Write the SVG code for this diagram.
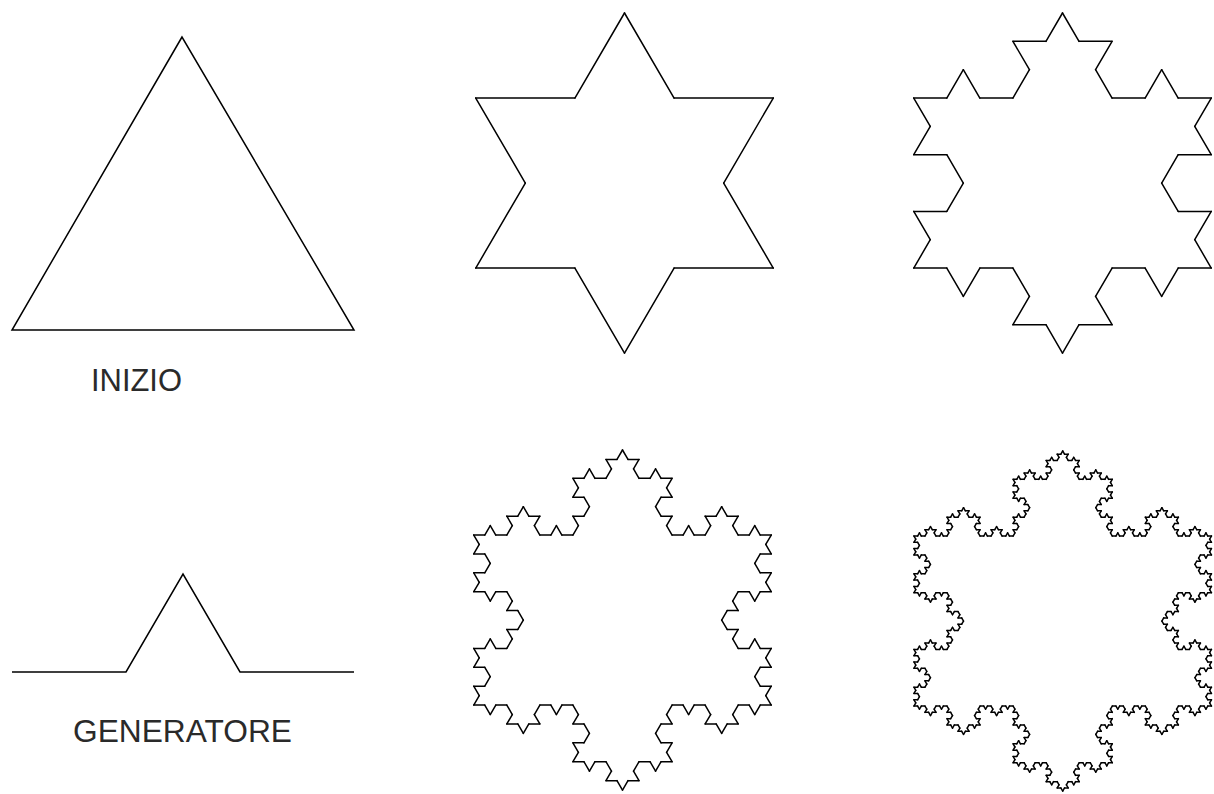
<svg xmlns="http://www.w3.org/2000/svg" width="1214" height="794" viewBox="0 0 1214 794">
<style>
.s{stroke:#000;stroke-width:1.5;fill:none;vector-effect:non-scaling-stroke;stroke-linecap:round;stroke-linejoin:round}
.p{stroke:#000;stroke-width:1.5;fill:none;stroke-linejoin:miter}
.t{font-family:"Liberation Sans",Arial,sans-serif;font-size:31px;fill:#2a2a2a}
</style>
<defs>
<line id="k0" class="s" vector-effect="non-scaling-stroke" x1="0" y1="0" x2="1" y2="0"/>
<g id="k1">
<use href="#k0" transform="scale(0.3333333)"/>
<use href="#k0" transform="translate(0.3333333,0) rotate(-60) scale(0.3333333)"/>
<use href="#k0" transform="translate(0.5,-0.2886751) rotate(60) scale(0.3333333)"/>
<use href="#k0" transform="translate(0.6666667,0) scale(0.3333333)"/>
</g>
<g id="k2">
<use href="#k1" transform="scale(0.3333333)"/>
<use href="#k1" transform="translate(0.3333333,0) rotate(-60) scale(0.3333333)"/>
<use href="#k1" transform="translate(0.5,-0.2886751) rotate(60) scale(0.3333333)"/>
<use href="#k1" transform="translate(0.6666667,0) scale(0.3333333)"/>
</g>
<g id="k3">
<use href="#k2" transform="scale(0.3333333)"/>
<use href="#k2" transform="translate(0.3333333,0) rotate(-60) scale(0.3333333)"/>
<use href="#k2" transform="translate(0.5,-0.2886751) rotate(60) scale(0.3333333)"/>
<use href="#k2" transform="translate(0.6666667,0) scale(0.3333333)"/>
</g>
<g id="k4">
<use href="#k3" transform="scale(0.3333333)"/>
<use href="#k3" transform="translate(0.3333333,0) rotate(-60) scale(0.3333333)"/>
<use href="#k3" transform="translate(0.5,-0.2886751) rotate(60) scale(0.3333333)"/>
<use href="#k3" transform="translate(0.6666667,0) scale(0.3333333)"/>
</g>
</defs>
<rect width="1214" height="794" fill="#fff"/>
<g id="connectors"/>
<g id="inizio">
<polygon class="p" points="182,37 12,330 354,330"/>
<text class="t" x="91" y="391" textLength="91" lengthAdjust="spacingAndGlyphs">INIZIO</text>
</g>
<g id="generatore">
<polyline class="p" points="12,672 126,672 183,574 240,672 354,672"/>
<text class="t" x="73" y="742" textLength="219" lengthAdjust="spacingAndGlyphs">GENERATORE</text>
</g>
<g id="koch1" transform="translate(624.5,13) scale(1,0.99)">
<use href="#k1" transform="translate(148.75,257.642) rotate(180) scale(297.5)"/>
<use href="#k1" transform="translate(-148.75,257.642) rotate(-60) scale(297.5)"/>
<use href="#k1" transform="rotate(60) scale(297.5)"/>
</g>
<g id="koch2" transform="translate(1062.5,13) scale(1,0.99)">
<use href="#k2" transform="translate(148.75,257.642) rotate(180) scale(297.5)"/>
<use href="#k2" transform="translate(-148.75,257.642) rotate(-60) scale(297.5)"/>
<use href="#k2" transform="rotate(60) scale(297.5)"/>
</g>
<g id="koch3" transform="translate(622.5,450) scale(1,0.99)">
<use href="#k3" transform="translate(148.75,257.642) rotate(180) scale(297.5)"/>
<use href="#k3" transform="translate(-148.75,257.642) rotate(-60) scale(297.5)"/>
<use href="#k3" transform="rotate(60) scale(297.5)"/>
</g>
<g id="koch4" transform="translate(1062.7,451) scale(1,0.99)">
<use href="#k4" transform="translate(148.75,257.642) rotate(180) scale(297.5)"/>
<use href="#k4" transform="translate(-148.75,257.642) rotate(-60) scale(297.5)"/>
<use href="#k4" transform="rotate(60) scale(297.5)"/>
</g>
</svg>
